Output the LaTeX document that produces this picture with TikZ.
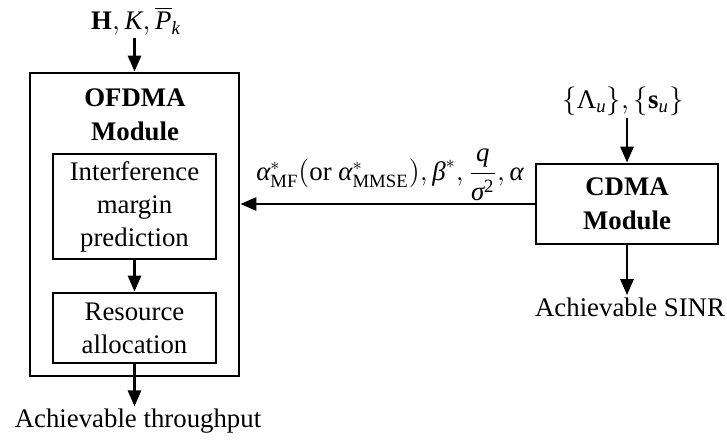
\documentclass[tikz,border=0pt]{standalone}
\usepackage{amsmath}
\usepackage{fontspec}
\setmainfont{Liberation Serif}
\usetikzlibrary{arrows.meta}
\newcommand{\mvar}[1]{\textit{#1}}
\begin{document}
\begin{tikzpicture}[x=0.5pt,y=-0.5pt,
  box/.style={draw,line width=1.4pt,inner sep=0pt,align=center},
  lbl/.style={inner sep=1pt,align=center,font=\fontsize{13.4}{16.5}\selectfont},
  bold/.style={font=\fontsize{13.4}{17}\selectfont\bfseries},
  arr/.style={line width=1.4pt,-{Triangle[length=8pt,width=6.5pt]}}]
\useasboundingbox (0,0) rectangle (727,440);
% OFDMA outer module
\node[box,minimum width=104.5pt,minimum height=151.5pt] (ofdma) at (134.5,224.5) {};
\node[lbl,bold] (ofdmat) at (135,115) {OFDMA\\Module};
\node[box,lbl,minimum width=81.5pt,minimum height=52.5pt] (imp) at (134.5,206.5) {Interference\\margin\\prediction};
\node[box,lbl,minimum width=81.5pt,minimum height=35pt] (ra) at (134.5,328) {Resource\\allocation};
% CDMA module
\node[box,lbl,bold,minimum width=91pt,minimum height=40pt] (cdma) at (627,204) {CDMA\\Module};
% texts
\node[lbl] (inofdma) at (136,21) {$\textbf{H},\mvar{K},\overline{\mvar{P}}_{\mvar{k}}$};
\node[lbl] (incdma) at (623,101) {$\{\text{Λ}_{\mvar{u}}\},\{\textbf{s}_{\mvar{u}}\}$};
\node[lbl] (thr) at (138,421) {Achievable throughput};
\node[lbl] (sinr) at (630,307) {Achievable SINR};
\node[lbl,anchor=south] (param) at (390,203) {$\mvar{α}^{*}_{\text{MF}}(\text{or }\mvar{α}^{*}_{\text{MMSE}}),\mvar{β}^{*},\dfrac{\mvar{q}}{\mvar{σ}^{\text{2}}},\mvar{α}$};
% connectors
\draw[arr] (inofdma.south -| ofdma.north) -- (ofdma.north);
\draw[arr] (imp.south) -- (ra.north);
\draw[arr] (ra.south) -- (ra.south |- thr.north);
\draw[arr] (incdma.south -| cdma.north) -- (cdma.north);
\draw[arr] (cdma.south) -- (cdma.south |- sinr.north);
\draw[arr] (cdma.west) -- (cdma.west -| ofdma.east);
\end{tikzpicture}
\end{document}
